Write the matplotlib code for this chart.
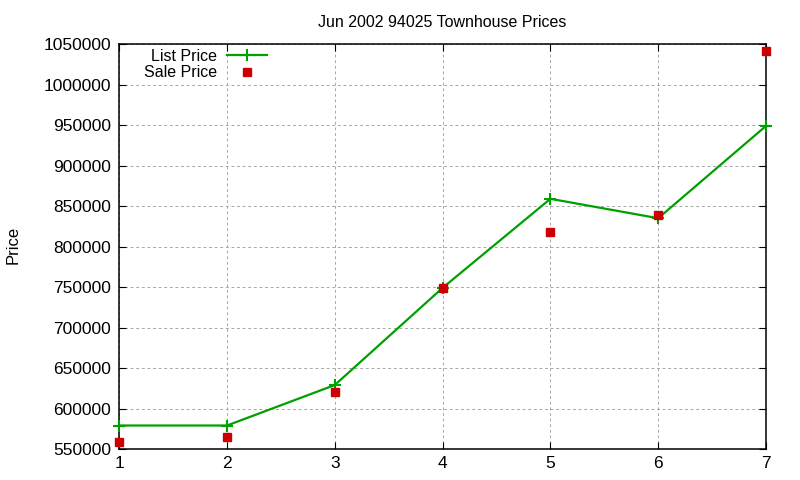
import matplotlib
matplotlib.use("Agg")
import matplotlib.pyplot as plt

plt.rcParams['font.family'] = ['Liberation Sans', 'DejaVu Sans']

x = [1, 2, 3, 4, 5, 6, 7]
list_price = [579000, 579000, 629000, 749000, 859000, 835000, 949000]
sale_price = [559000, 565000, 620000, 749000, 818000, 839000, 1041500]
yticks = list(range(550000, 1050001, 50000))

fig = plt.figure(figsize=(8, 4.8), dpi=100)
ax = fig.add_axes([0.149, 0.0646, 0.8085, 0.8434])

ax.plot(x, list_price, color="#00a000", linewidth=1.6, marker="+", markersize=9,
        markeredgewidth=1.5, label="List Price", clip_on=False, zorder=3)
ax.plot(x, sale_price, linestyle="none", marker="s", markersize=6,
        color="#cc0000", label="Sale Price", clip_on=False, zorder=4)

ax.set_xlim(1, 7)
ax.set_ylim(550000, 1050000)
ax.set_yticks(yticks)
ax.set_yticklabels([str(v) for v in yticks])
ax.set_xticks(x)
ax.tick_params(direction="in", top=True, right=True, labelsize=12.5, length=5, pad=6)
ax.tick_params(axis="x", pad=5)
ax.grid(True, color="#a8a8a8", linestyle=(0, (2.8, 2.8)), linewidth=0.72)
for s in ax.spines.values():
    s.set_linewidth(1.1)

ax.set_title("Jun 2002 94025 Townhouse Prices", fontsize=11.5, pad=12)
fig.text(0.016, 0.49, "Price", rotation=90, fontsize=12, va="center", ha="center")

leg = ax.legend(loc="upper right", markerfirst=False, frameon=False, fontsize=11.5,
                bbox_to_anchor=(267 / 800, 1 - 49 / 480), bbox_transform=fig.transFigure,
                handlelength=2.5, labelspacing=0.08, borderpad=0, borderaxespad=0,
                handletextpad=0.6)
for t in leg.get_texts():
    t.set_ha("right")
leg._legend_box.align = "right"

fig.savefig("out.png", dpi=100)
